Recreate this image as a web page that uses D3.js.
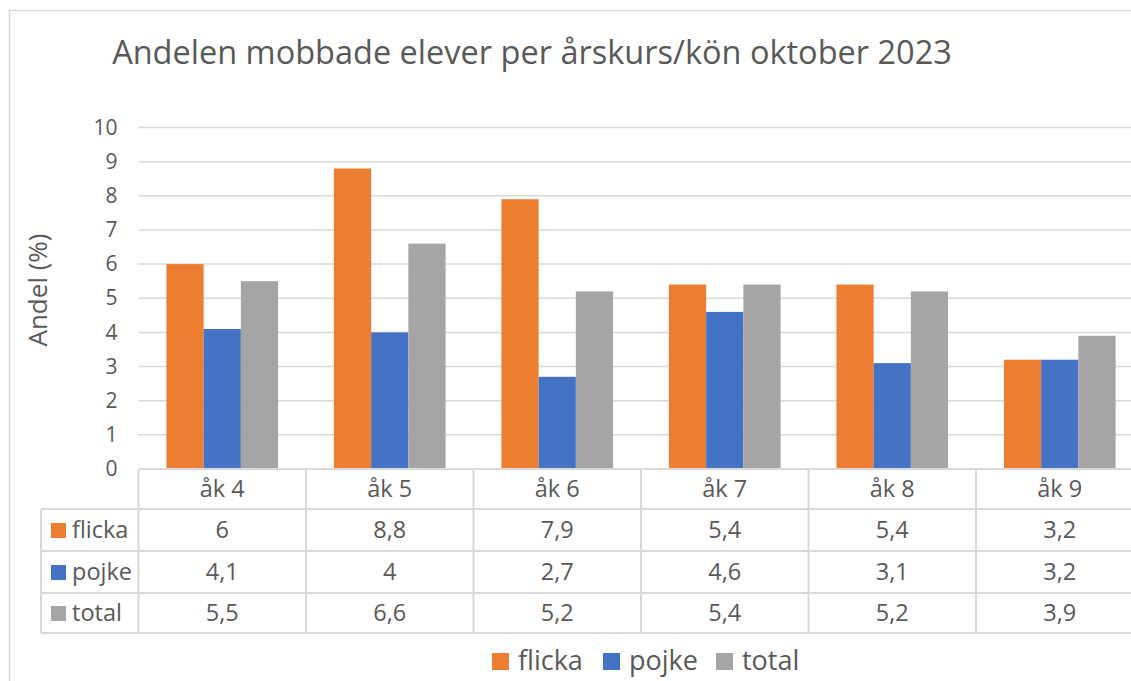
<!DOCTYPE html>
<html>
<head>
<meta charset="utf-8">
<script src="https://cdn.jsdelivr.net/npm/d3@7"></script>
<style>
  body { margin: 0; background: #fff; }
  text { font-family: "Open Sans", "Noto Sans", sans-serif; fill: #595959; }
</style>
</head>
<body>
<svg id="chart"></svg>
<script>
// Data
const categories = ["åk 4", "åk 5", "åk 6", "åk 7", "åk 8", "åk 9"];
const seriesNames = ["flicka", "pojke", "total"];
const flicka = [6, 8.8, 7.9, 5.4, 5.4, 3.2];
const pojke = [4.1, 4, 2.7, 4.6, 3.1, 3.2];
const total = [5.5, 6.6, 5.2, 5.4, 5.2, 3.9];
const yTicks = [0, 1, 2, 3, 4, 5, 6, 7, 8, 9, 10];
const title = "Andelen mobbade elever per årskurs/kön oktober 2023";
const yLabel = "Andel (%)";

const seriesValues = [flicka, pojke, total];
const colors = ["#ED7D31", "#4472C4", "#A5A5A5"];

// Constants
const width = 1131;
const height = 681;
const plot = { left: 138.5, right: 1143.5, top: 127.5, bottom: 469 };
const rowEdges = [469, 509, 551, 593, 633];
const labelColLeft = 41;
const gridColor = "#d9d9d9";

const svg = d3.select("#chart").attr("width", width).attr("height", height);

// chart frame
svg.append("rect")
    .attr("x", 9.5).attr("y", 10.5)
    .attr("width", 1140).attr("height", 700)
    .attr("fill", "#fff")
    .attr("stroke", gridColor)
    .attr("stroke-width", 1.5);

// title
svg.append("text")
    .attr("x", 532).attr("y", 64)
    .attr("text-anchor", "middle")
    .attr("font-size", 32.5)
    .text(title);

// scales
const x = d3.scaleBand()
    .domain(categories)
    .range([plot.left, plot.right]);

const xInner = d3.scaleBand()
    .domain(seriesNames)
    .range([0, x.bandwidth()])
    .paddingInner(0)
    .paddingOuter(0.75);

const y = d3.scaleLinear()
    .domain([0, 10])
    .range([plot.bottom, plot.top]);

// gridlines
svg.append("g")
    .selectAll("line")
    .data(yTicks.filter(t => t > 0))
    .join("line")
    .attr("x1", plot.left).attr("x2", width)
    .attr("y1", d => y(d)).attr("y2", d => y(d))
    .attr("stroke", gridColor)
    .attr("stroke-width", 1.5);

// y axis tick labels
const yAxis = svg.append("g")
    .attr("transform", `translate(${plot.left},0)`)
    .call(d3.axisLeft(y).tickValues(yTicks).tickSize(0).tickPadding(21).tickFormat(d3.format("d")));
yAxis.select(".domain").remove();
yAxis.selectAll("text")
    .attr("font-size", 21)
    .attr("font-family", null)
    .attr("fill", "#595959");

// y axis title
svg.append("text")
    .attr("transform", `translate(47,290) rotate(-90)`)
    .attr("text-anchor", "middle")
    .attr("font-size", 26)
    .text(yLabel);

// bars
const groups = svg.append("g")
    .selectAll("g")
    .data(categories)
    .join("g")
    .attr("transform", d => `translate(${x(d)},0)`);

groups.selectAll("rect")
    .data((d, i) => seriesNames.map((s, j) => ({ s, j, v: seriesValues[j][i] })))
    .join("rect")
    .attr("x", d => xInner(d.s))
    .attr("width", xInner.bandwidth())
    .attr("y", d => y(d.v))
    .attr("height", d => y(0) - y(d.v))
    .attr("fill", d => colors[d.j]);

// data table
const table = svg.append("g")
    .attr("stroke", gridColor)
    .attr("stroke-width", 2)
    .attr("fill", "none");

// horizontal table lines
table.selectAll("line.h")
    .data(rowEdges)
    .join("line")
    .attr("class", "h")
    .attr("x1", (d, i) => i === 0 ? plot.left : labelColLeft)
    .attr("x2", width)
    .attr("y1", d => d).attr("y2", d => d);

// vertical table lines
const colEdges = categories.map(c => x(c)).concat([plot.right]);
table.selectAll("line.v")
    .data(colEdges)
    .join("line")
    .attr("class", "v")
    .attr("x1", d => d).attr("x2", d => d)
    .attr("y1", rowEdges[0]).attr("y2", rowEdges[rowEdges.length - 1]);

table.append("line")
    .attr("x1", labelColLeft).attr("x2", labelColLeft)
    .attr("y1", rowEdges[1]).attr("y2", rowEdges[rowEdges.length - 1]);

// header row
svg.append("g")
    .selectAll("text")
    .data(categories)
    .join("text")
    .attr("x", d => x(d) + x.bandwidth() / 2)
    .attr("y", (rowEdges[0] + rowEdges[1]) / 2)
    .attr("dy", "0.35em")
    .attr("text-anchor", "middle")
    .attr("font-size", 23.5)
    .text(d => d);

// series rows
seriesNames.forEach((s, j) => {
    const cy = (rowEdges[j + 1] + rowEdges[j + 2]) / 2;
    svg.append("rect")
        .attr("x", 51).attr("y", cy - 7)
        .attr("width", 15).attr("height", 15)
        .attr("fill", colors[j]);
    svg.append("text")
        .attr("x", 72).attr("y", cy)
        .attr("dy", "0.35em")
        .attr("font-size", 23.5)
        .text(s);
    svg.append("g")
        .selectAll("text")
        .data(categories)
        .join("text")
        .attr("x", d => x(d) + x.bandwidth() / 2)
        .attr("y", cy)
        .attr("dy", "0.35em")
        .attr("text-anchor", "middle")
        .attr("font-size", 23.5)
        .text((d, i) => String(seriesValues[j][i]).replace(".", ","));
});

// legend
const legendX = [492, 603, 716];
const legend = svg.append("g")
    .selectAll("g")
    .data(seriesNames)
    .join("g")
    .attr("transform", (d, i) => `translate(${legendX[i]},661)`);
legend.append("rect")
    .attr("x", 0).attr("y", -8)
    .attr("width", 17).attr("height", 17)
    .attr("fill", (d, i) => colors[i]);
legend.append("text")
    .attr("x", 26).attr("y", 0)
    .attr("dy", "0.35em")
    .attr("font-size", 27)
    .text(d => d);
</script>
</body>
</html>
